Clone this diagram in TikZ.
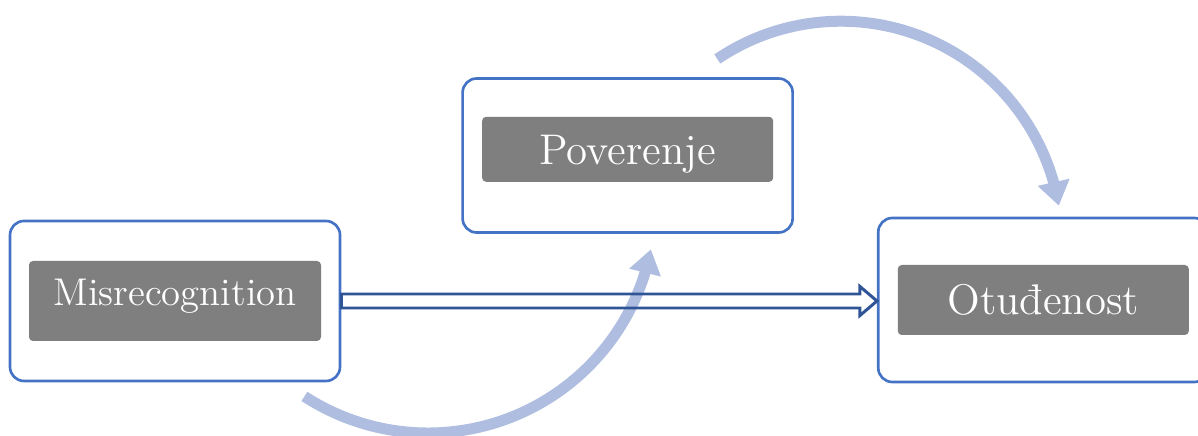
\documentclass[tikz,border=0pt]{standalone}
\usepackage{fontspec}
\usetikzlibrary{positioning,calc,arrows.meta,bending}

\definecolor{boxblue}{HTML}{4472C4}
\definecolor{darkblue}{HTML}{2F5597}
\definecolor{paleblue}{RGB}{175,189,224}
\definecolor{labelgrey}{HTML}{7F7F7F}

\tikzset{
  outerbox/.style={rectangle, rounded corners=1.4mm, draw=boxblue, line width=0.75pt, fill=white, minimum width=3.3cm, minimum height=1.6cm},
  labelbox/.style={rectangle, rounded corners=0.4mm, fill=labelgrey, text=white, minimum width=2.91cm, minimum height=0.7cm, text height=8.4pt, text depth=0pt, font=\fontsize{12.2}{14}\selectfont},
  hollow/.style={draw=darkblue, line width=0.85pt, line join=miter},
  bow/.style={draw=paleblue, line width=1.1mm, -{Triangle[length=2.4mm,width=3.1mm]}}
}

\begin{document}
\begin{tikzpicture}[x=0.1mm, y=0.1mm]

\clip (0,0) rectangle (1198,436);

\node (mis) [outerbox] at (175,135) {};
\node (pov) [outerbox, minimum height=1.54cm, right=1.2cm of mis, yshift=1.455cm] {};
\node (otu) [outerbox, minimum height=1.64cm, right=0.83cm of pov, yshift=-1.445cm] {};

\node (mislab) [labelbox, minimum width=2.92cm, minimum height=0.8cm, font=\fontsize{11}{13}\selectfont, text height=7.6pt, text depth=5.3pt] at (mis) {Misrecognition};
\node (povlab) [labelbox, minimum height=0.65cm, yshift=0.62mm] at (pov) {Poverenje};
\node (otulab) [labelbox] at (otu) {Otuđenost};

% curved arrows
\coordinate (lowstart) at (304.4,39.6);
\coordinate (highstart) at (717.3,377);
\draw [bow] (lowstart) arc [start angle=237, end angle=349, radius=2.27cm];
\draw [bow] (highstart) arc [start angle=124, end angle=9.5, radius=2.21cm];

% direct effect
\draw [hollow] ($(mis.east)+(0,7)$) -- ($(otu.west |- mis.east)+(-17,7)$) -- ++(0,7.5)
  -- (otu.west |- mis.east) -- ++(-17,-14.5) -- ++(0,7.5) -- ($(mis.east)+(0,-7)$) -- cycle;

\end{tikzpicture}
\end{document}
